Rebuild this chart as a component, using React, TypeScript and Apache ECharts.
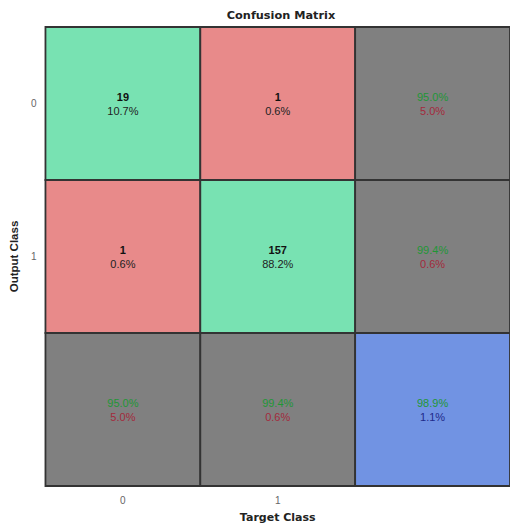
import React, { useEffect, useRef } from "react";
import * as echarts from "echarts";

// Class labels along the axes (third slot is the summary row/column)
const targetClasses = ["0", "1", ""];
const outputClasses = ["0", "1", ""];

// Counts: rows = output class, columns = target class
const countRow0 = [19, 1];
const countRow1 = [1, 157];
const counts = [countRow0, countRow1];

const GREEN = "#78e2b2";
const RED = "#e88a8a";
const GRAY = "#808080";
const BLUE = "#7193e3";

const pct = (v: number) => (v * 100).toFixed(1) + "%";

type Cell = { col: number; row: number; fill: string; text: string };

export default function App() {
  const ref = useRef<HTMLDivElement>(null);

  useEffect(() => {
    if (!ref.current) return;
    const chart = echarts.init(ref.current, undefined, { renderer: "svg" });

    const total = counts.reduce((s, r) => s + r[0] + r[1], 0);
    const cells: Cell[] = [];

    // Main 2x2 block
    for (let r = 0; r < 2; r++) {
      for (let c = 0; c < 2; c++) {
        const v = counts[r][c];
        cells.push({
          col: c,
          row: r,
          fill: r === c ? GREEN : RED,
          text: `{n|${v}}\n{p|${pct(v / total)}}`,
        });
      }
    }
    // Row summaries (per output class)
    for (let r = 0; r < 2; r++) {
      const ok = counts[r][r] / (counts[r][0] + counts[r][1]);
      cells.push({ col: 2, row: r, fill: GRAY, text: `{g|${pct(ok)}}\n{r|${pct(1 - ok)}}` });
    }
    // Column summaries (per target class)
    for (let c = 0; c < 2; c++) {
      const ok = counts[c][c] / (counts[0][c] + counts[1][c]);
      cells.push({ col: c, row: 2, fill: GRAY, text: `{g|${pct(ok)}}\n{r|${pct(1 - ok)}}` });
    }
    // Overall accuracy
    const acc = (counts[0][0] + counts[1][1]) / total;
    cells.push({ col: 2, row: 2, fill: BLUE, text: `{g|${pct(acc)}}\n{b|${pct(1 - acc)}}` });

    const font = "Liberation Sans";
    const wide = "DejaVu Sans";
    const lh = 14;
    const rich = {
      n: { fontFamily: font, fontWeight: "bold", fontSize: 11, fill: "#111", lineHeight: lh },
      p: { fontFamily: font, fontSize: 11, fill: "#222", lineHeight: lh },
      g: { fontFamily: font, fontSize: 11, fill: "#1f9636", lineHeight: lh },
      r: { fontFamily: font, fontSize: 11, fill: "#a32a3c", lineHeight: lh },
      b: { fontFamily: font, fontSize: 11, fill: "#1f2a8a", lineHeight: lh },
    };

    chart.setOption({
      animation: false,
      backgroundColor: "#ffffff",
      grid: { left: 45, top: 27, width: 469, height: 468 },
      graphic: [
        {
          type: "text",
          x: 281,
          y: 15,
          style: {
            text: "Confusion Matrix",
            textAlign: "center",
            textVerticalAlign: "middle",
            fontFamily: wide,
            fontWeight: "bold",
            fontSize: 11.3,
            fill: "#222",
          },
        },
      ],
      xAxis: {
        type: "category",
        data: targetClasses,
        name: "Target Class",
        nameLocation: "middle",
        nameGap: 26,
        nameTextStyle: { fontFamily: wide, fontWeight: "bold", fontSize: 11, color: "#222" },
        axisLine: { show: false },
        axisTick: { show: false },
        axisLabel: { fontFamily: font, fontSize: 10, color: "#666", margin: 9 },
        splitLine: { show: false },
      },
      yAxis: {
        type: "category",
        data: outputClasses,
        inverse: true,
        name: "Output Class",
        nameLocation: "middle",
        nameGap: 14,
        nameTextStyle: { fontFamily: font, fontWeight: "bold", fontSize: 11.5, color: "#222" },
        axisLine: { show: false },
        axisTick: { show: false },
        axisLabel: { fontFamily: font, fontSize: 10, color: "#666", margin: 9 },
        splitLine: { show: false },
      },
      series: [
        {
          type: "custom",
          data: cells.map((c) => [c.col, c.row]),
          renderItem: (params: any, api: any) => {
            const cell = cells[params.dataIndex];
            const center = api.coord([api.value(0), api.value(1)]);
            const size = api.size([1, 1]);
            const x = center[0] - size[0] / 2;
            const y = center[1] - size[1] / 2;
            return {
              type: "group",
              children: [
                {
                  type: "rect",
                  shape: { x, y, width: size[0], height: size[1] },
                  style: { fill: cell.fill, stroke: "#333", lineWidth: 1.8 },
                },
                {
                  type: "text",
                  x: center[0],
                  y: center[1],
                  style: {
                    text: cell.text,
                    textAlign: "center",
                    textVerticalAlign: "middle",
                    fontFamily: font,
                    rich,
                  },
                },
              ],
            };
          },
        },
      ],
    });

    return () => chart.dispose();
  }, []);

  return (
    <div
      ref={ref}
      style={{ position: "absolute", left: 0, top: 0, width: 510, height: 528 }}
    />
  );
}
